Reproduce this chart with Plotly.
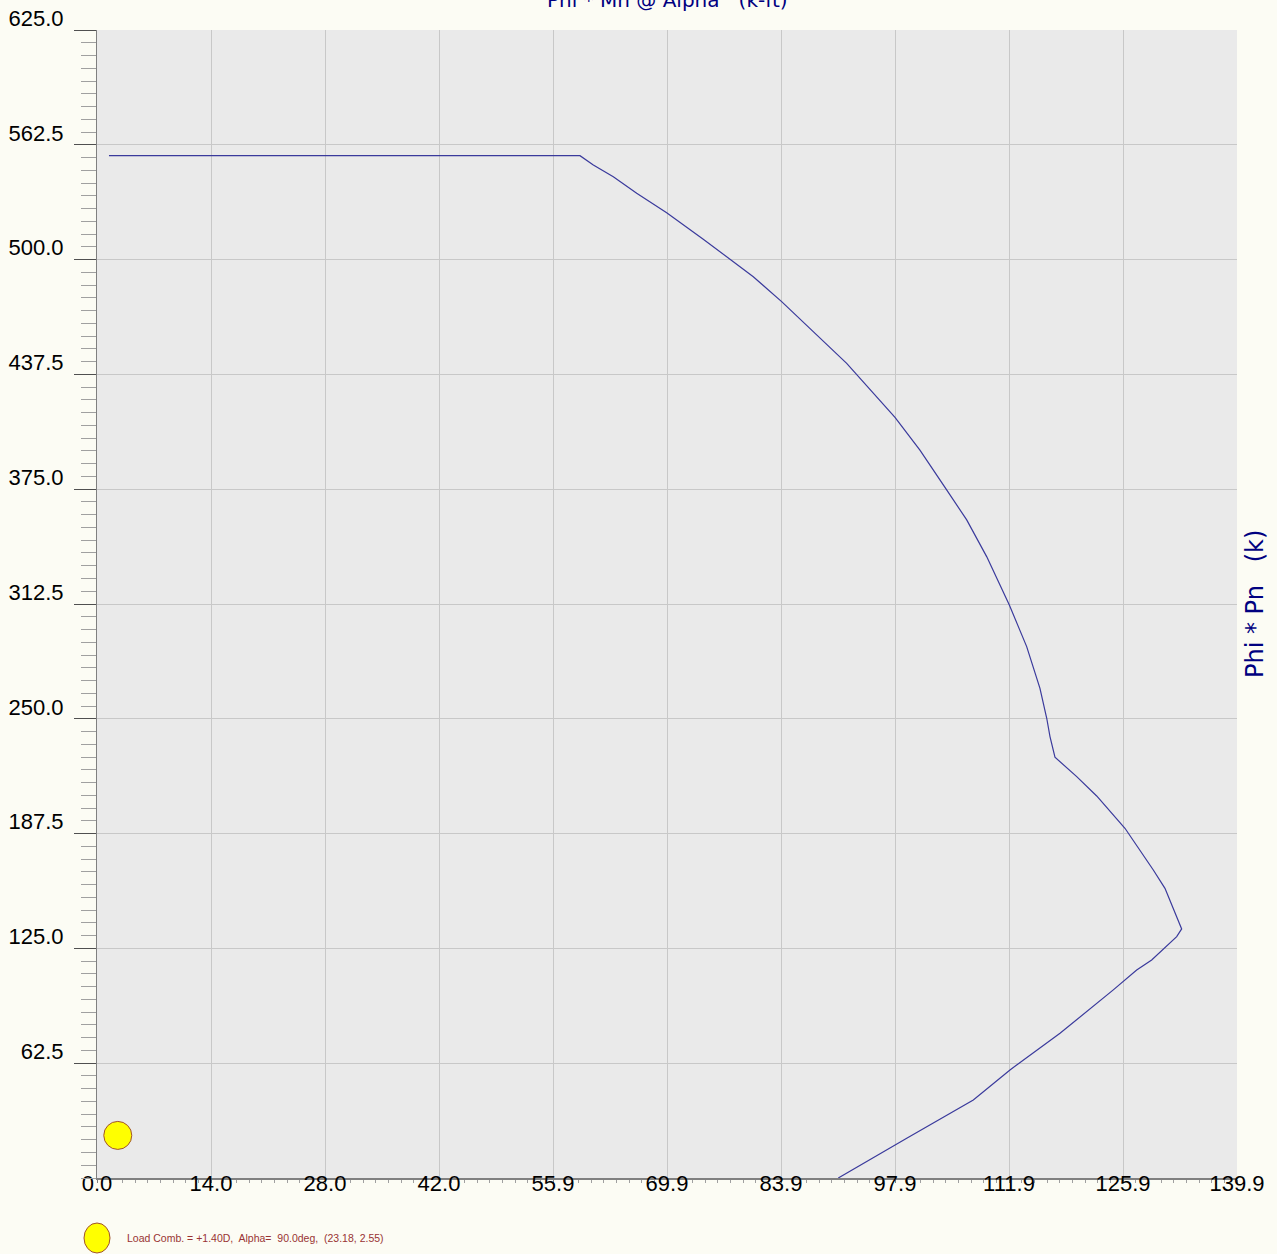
import plotly.graph_objects as go

# ---- data ----
mn_values = [1.47, 59.27, 60.91, 63.36, 66.23, 69.91, 74.40, 77.28, 80.54, 84.02,
             87.90, 92.00, 97.93, 100.99, 104.27, 106.73, 109.18, 111.96, 114.09,
             115.72, 116.55, 116.95, 117.56, 120.23, 122.68, 126.15, 129.63, 131.06,
             133.11, 132.50, 129.43, 127.59, 124.72, 118.18, 112.04, 107.54, 99.37, 90.97]
pn_values = [556.6, 556.6, 551.5, 545.1, 536.1, 525.5, 511.1, 501.6, 490.7, 477.1,
             460.8, 443.5, 414.1, 396.3, 374.6, 358.3, 338.3, 312.0, 289.3,
             266.6, 250.3, 240.3, 229.1, 218.5, 208.0, 190.4, 167.7, 157.7,
             135.6, 131.4, 118.7, 113.2, 102.4, 78.8, 58.8, 42.5, 21.6, 0.0]

load_m = [2.55]
load_p = [23.18]

x_tick_vals = [0.0, 13.99, 27.98, 41.97, 55.96, 69.95, 83.94, 97.93, 111.92, 125.91, 139.9]
x_tick_text = ["0.0", "14.0", "28.0", "42.0", "55.9", "69.9", "83.9", "97.9", "111.9", "125.9", "139.9"]
y_tick_vals = [62.5, 125.0, 187.5, 250.0, 312.5, 375.0, 437.5, 500.0, 562.5, 625.0]
y_tick_text = ["62.5", "125.0", "187.5", "250.0", "312.5", "375.0", "437.5", "500.0", "562.5", "625.0"]

title_text = "Phi * Mn @ Alpha   (k-ft)"
ytitle_text = "Phi * Pn   (k)"
legend_text = "Load Comb. = +1.40D,  Alpha=  90.0deg,  (23.18, 2.55)"

NAVY = "#000080"
TICKFONT = dict(family="Liberation Sans, Arial", size=22, color="#000000")

fig = go.Figure()
fig.add_trace(go.Scatter(x=mn_values, y=pn_values, mode="lines",
                         line=dict(color="#3a3a9c", width=1.2),
                         hoverinfo="skip", showlegend=False))
fig.add_trace(go.Scatter(x=load_m, y=load_p, mode="markers",
                         marker=dict(size=28, color="#FFFF00",
                                     line=dict(color="#A0522D", width=1)),
                         showlegend=False))

fig.update_layout(
    width=1277, height=1254,
    margin=dict(l=97, r=40, t=30, b=76, pad=0, autoexpand=False),
    paper_bgcolor="#FCFCF4",
    plot_bgcolor="#EAEAEA",
    showlegend=False,
)

fig.update_xaxes(
    range=[0, 139.9], tickmode="array", tickvals=x_tick_vals, ticktext=x_tick_text,
    tickfont=TICKFONT, showgrid=True, gridcolor="#C8C8C8", gridwidth=1,
    zeroline=False, showline=True, linecolor="#808080", linewidth=2,
    ticks="outside", ticklen=3, tickcolor="#808080",
    ticklabelstandoff=-18, automargin=False,
    minor=dict(dtick=13.99 / 9, tick0=0, ticks="outside", ticklen=3,
               tickcolor="#A0A0A0", showgrid=False),
)
fig.update_yaxes(
    range=[0, 625], tickmode="array", tickvals=y_tick_vals, ticktext=y_tick_text,
    tickfont=TICKFONT, showgrid=True, gridcolor="#C8C8C8", gridwidth=1,
    zeroline=False, showline=True, linecolor="#808080", linewidth=1,
    ticks="outside", ticklen=22, tickcolor="#505050",
    ticklabelshift=-12, ticklabelstandoff=6, automargin=False,
    minor=dict(dtick=62.5 / 9, tick0=0, ticks="outside", ticklen=15,
               tickcolor="#A0A0A0", showgrid=False),
)

# title (cut off at the top like the reference)
fig.add_annotation(text=title_text, xref="paper", yref="paper", x=0.5, y=1,
                   xanchor="center", yanchor="bottom", yshift=16, showarrow=False,
                   font=dict(family="DejaVu Sans", size=20, color=NAVY))
# right-hand axis title
fig.add_annotation(text=ytitle_text, xref="paper", yref="paper", x=1, y=0.5,
                   xanchor="left", yanchor="middle", xshift=2, textangle=-90,
                   showarrow=False,
                   font=dict(family="DejaVu Sans", size=24, color=NAVY))
# legend entry
legend_y = -60 / 1148
fig.add_shape(type="circle", xref="paper", yref="paper",
              xsizemode="pixel", ysizemode="pixel", xanchor=0, yanchor=legend_y,
              x0=-13, x1=13, y0=-15, y1=15,
              fillcolor="#FFFF00", line=dict(color="#A0522D", width=1))
fig.add_annotation(text=legend_text, xref="paper", yref="paper", x=0, y=legend_y,
                   xanchor="left", yanchor="middle", xshift=28, showarrow=False,
                   font=dict(family="Liberation Sans, Arial", size=10.5, color="#993333"))

fig.write_html("out.html", config={"displayModeBar": False},
               post_script="document.body.style.margin='0px';document.body.style.overflow='hidden';")
